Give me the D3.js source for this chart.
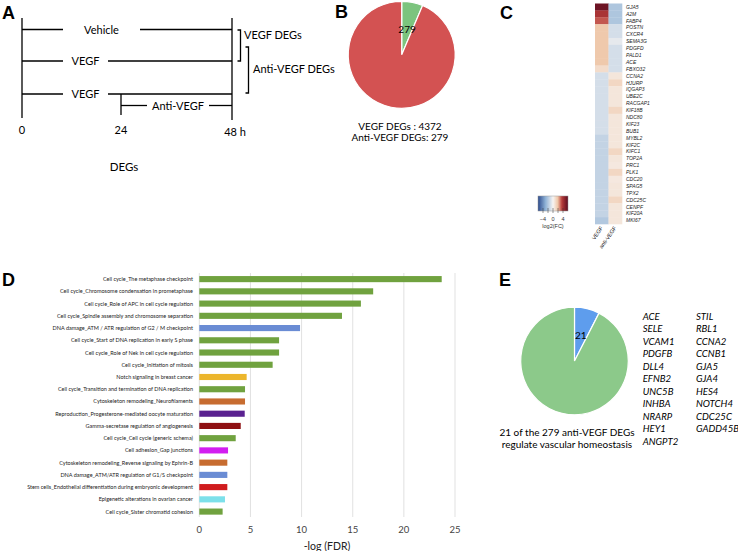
<!DOCTYPE html>
<html>
<head>
<meta charset="utf-8">
<script src="https://d3js.org/d3.v7.min.js"></script>
<style>
  body { margin: 0; background: #fff; }
  svg { display: block; }
</style>
</head>
<body>
<svg id="fig" width="738" height="551"></svg>
<script>
// ---------- data ----------
const timeTicks = [0, 24, 48];
const timeTickLabels = ["0", "24", "48 h"];
const armLabels = ["Vehicle", "VEGF", "VEGF", "Anti-VEGF"];
const armStart = [0, 0, 0, 24];
const armEnd = [48, 48, 48, 48];

const vegfDegs = 4372;
const antiVegfDegs = 279;

const heatColumns = ["VEGF", "anti-VEGF"];
const heatGenes = ["GJA5", "A2M", "FABP4", "POSTN", "CXCR4", "SEMA3G", "PDGFD", "PALD1", "ACE", "FBXO32",
  "CCNA2", "HJURP", "IQGAP3", "UBE2C", "RACGAP1", "KIF18B", "NDC80", "KIF23", "BUB1", "MYBL2",
  "KIF2C", "KIFC1", "TOP2A", "PRC1", "PLK1", "CDC20", "SPAG5", "TPX2", "CDC25C", "CENPF", "KIF20A", "MKI67"];
const heatVegf = [5.5, 3.9, 3.2, 1.8, 1.8, 1.8, 1.8, 1.8, 1.8, 1.0,
  -1.0, -1.0, -1.0, -1.0, -1.0, -1.0, -1.0, -1.0, -1.0, -1.5,
  -1.5, -1.5, -1.5, -1.5, -1.5, -1.5, -1.5, -1.5, -1.5, -1.5, -1.5, -2.0];
const heatAnti = [-2.1, -2.1, -2.1, -1.0, -1.0, -0.5, -1.0, -1.0, -1.0, -1.0,
  0.6, 1.2, 0.6, 0.6, 0.6, 1.2, 0.6, 0.6, 0.6, 0.6,
  0.6, 1.2, 0.6, 0.5, 1.2, 0.5, 0.6, 0.6, 1.2, 0.6, 0.6, 0.6];
const colorbarTicks = [-4, -2, 0, 2, 4];

const pathways = [
  "Cell cycle_The metaphase checkpoint",
  "Cell cycle_Chromosome condensation in prometaphase",
  "Cell cycle_Role of APC in cell cycle regulation",
  "Cell cycle_Spindle assembly and chromosome separation",
  "DNA damage_ATM / ATR regulation of G2 / M checkpoint",
  "Cell cycle_Start of DNA replication in early S phase",
  "Cell cycle_Role of Nek in cell cycle regulation",
  "Cell cycle_Initiation of mitosis",
  "Notch signaling in breast cancer",
  "Cell cycle_Transition and termination of DNA replication",
  "Cytoskeleton remodeling_Neurofilaments",
  "Reproduction_Progesterone-mediated oocyte maturation",
  "Gamma-secretase regulation of angiogenesis",
  "Cell cycle_Cell cycle (generic schema)",
  "Cell adhesion_Gap junctions",
  "Cytoskeleton remodeling_Reverse signaling by Ephrin-B",
  "DNA damage_ATM/ATR regulation of G1/S checkpoint",
  "Stem cells_Endothelial differentiation during embryonic development",
  "Epigenetic alterations in ovarian cancer",
  "Cell cycle_Sister chromatid cohesion"
];
const pathwayScores = [23.7, 17.0, 15.8, 13.95, 9.85, 7.8, 7.8, 7.17, 4.63, 4.47,
  4.47, 4.44, 4.05, 3.56, 2.81, 2.74, 2.74, 2.74, 2.51, 2.28];
const pathwayColors = ["#70a23f", "#70a23f", "#70a23f", "#70a23f", "#6a8cd4", "#70a23f", "#70a23f", "#70a23f",
  "#ecb62c", "#70a23f", "#c76c30", "#5a2190", "#8e1012", "#70a23f", "#d21ef0", "#c76c30",
  "#6a8cd4", "#d01c1e", "#7ce0ea", "#70a23f"];
const fdrTicks = [0, 5, 10, 15, 20, 25];

const vascularCount = 21;
const antiTotal = 279;
const vascGenesLeft = ["ACE", "SELE", "VCAM1", "PDGFB", "DLL4", "EFNB2", "UNC5B", "INHBA", "NRARP", "HEY1", "ANGPT2"];
const vascGenesRight = ["STIL", "RBL1", "CCNA2", "CCNB1", "GJA5", "GJA4", "HES4", "NOTCH4", "CDC25C", "GADD45B"];

// ---------- drawing ----------
const svg = d3.select("#fig");
svg.append("rect").attr("width", 738).attr("height", 551).attr("fill", "#fff");
const calib = "Lato, 'Open Sans', sans-serif";
const arial = "'Liberation Sans', Arial, sans-serif";

function panelLabel(t, x, y) {
  svg.append("text").attr("x", x).attr("y", y).text(t)
    .style("font", `bold 18px ${arial}`);
}
panelLabel("A", 2, 19);
panelLabel("B", 335, 18);
panelLabel("C", 500, 19);
panelLabel("D", 2, 286);
panelLabel("E", 499, 286);

// ---- A: design timeline ----
const gA = svg.append("g");
const tx = d3.scaleLinear().domain(timeTicks).range([22, 121, 232]);
const armY = [29.5, 61, 94, 105.5];
const armGap = [[63, 140], [63, 108], [63, 108], [147, 209]];
const lineA = sel => sel.attr("stroke", "#000").attr("stroke-width", 1.3);

gA.append("line").attr("x1", tx(0)).attr("x2", tx(0)).attr("y1", 18).attr("y2", 118).call(lineA);
gA.append("line").attr("x1", tx(48)).attr("x2", tx(48)).attr("y1", 18).attr("y2", 120).call(lineA);
gA.append("line").attr("x1", tx(24)).attr("x2", tx(24)).attr("y1", armY[2]).attr("y2", 115).call(lineA);

armLabels.forEach((lab, i) => {
  const x0 = tx(armStart[i]), x1 = tx(armEnd[i]);
  const [g0, g1] = armGap[i];
  gA.append("line").attr("x1", x0).attr("x2", g0).attr("y1", armY[i]).attr("y2", armY[i]).call(lineA);
  gA.append("line").attr("x1", g1).attr("x2", x1).attr("y1", armY[i]).attr("y2", armY[i]).call(lineA);
  gA.append("text").attr("x", (g0 + g1) / 2).attr("y", armY[i] + 4)
    .attr("text-anchor", "middle").text(lab).style("font", `11px ${calib}`);
});

timeTicks.forEach((t, i) => {
  gA.append("text").attr("x", tx(t) + (i === 2 ? 3 : 0)).attr("y", i === 2 ? 136 : 134)
    .attr("text-anchor", "middle").text(timeTickLabels[i]).style("font", `11px ${calib}`);
});
gA.append("text").attr("x", 124).attr("y", 171).attr("text-anchor", "middle")
  .text("DEGs").style("font", `11.5px ${calib}`);

// brackets
function bracket(x, y0, y1) {
  gA.append("path").attr("d", `M${x - 3},${y0}H${x}V${y1}H${x - 3}`)
    .attr("fill", "none").call(lineA);
}
bracket(240.5, 30, 61);
bracket(248.5, 47, 93);
gA.append("text").attr("x", 244).attr("y", 38.5).text("VEGF DEGs").style("font", `11px ${calib}`);
gA.append("text").attr("x", 253).attr("y", 73).text("Anti-VEGF DEGs").style("font", `11px ${calib}`);

// ---- B: pie ----
const gB = svg.append("g").attr("transform", "translate(401.7,54.8)");
const pieB = d3.pie().sort(null).value(d => d)([antiVegfDegs, vegfDegs - antiVegfDegs]);
const arcB = d3.arc().innerRadius(0).outerRadius(53.5);
gB.selectAll("path").data(pieB).join("path")
  .attr("d", arcB)
  .attr("fill", (d, i) => i === 0 ? "#7cc47e" : "#d35252")
  .attr("stroke", "#fff").attr("stroke-width", 1.2);
const cB = arcB.centroid(pieB[0]);
gB.append("text").attr("x", cB[0]).attr("y", cB[1] + 4).attr("text-anchor", "middle")
  .text(antiVegfDegs).style("font", `10px ${calib}`);
svg.append("text").attr("x", 400).attr("y", 130).attr("text-anchor", "middle")
  .text(`VEGF DEGs : ${vegfDegs}`).style("font", `10px ${calib}`);
svg.append("text").attr("x", 400).attr("y", 141).attr("text-anchor", "middle")
  .text(`Anti-VEGF DEGs: ${antiVegfDegs}`).style("font", `10px ${calib}`);

// ---- C: heatmap ----
const gC = svg.append("g");
const hx = d3.scaleBand().domain(heatColumns).range([595, 622]);
const hy = d3.scaleBand().domain(heatGenes).range([3.5, 224]);
const heatColor = d3.scaleLinear()
  .domain([-6, -3, 0, 2, 3.5, 6])
  .range(["#2c4a8c", "#8fb2d6", "#f7f4f2", "#eec4a4", "#b83c3a", "#5a0a1e"]);

const cells = [];
heatGenes.forEach((g, i) => {
  cells.push({ gene: g, col: heatColumns[0], v: heatVegf[i] });
  cells.push({ gene: g, col: heatColumns[1], v: heatAnti[i] });
});
gC.selectAll("rect.cell").data(cells).join("rect").attr("class", "cell")
  .attr("x", d => hx(d.col)).attr("y", d => hy(d.gene))
  .attr("width", hx.bandwidth() + 0.3).attr("height", hy.bandwidth() + 0.3)
  .attr("fill", d => heatColor(d.v));
gC.selectAll("text.gene").data(heatGenes).join("text").attr("class", "gene")
  .attr("x", 626).attr("y", d => hy(d) + hy.bandwidth() / 2 + 1.8)
  .text(d => d).style("font", `italic 5px ${arial}`).attr("fill", "#222");
gC.selectAll("text.col").data(heatColumns).join("text").attr("class", "col")
  .attr("transform", d => `translate(${hx(d) + hx.bandwidth() / 2 + 1.5},228) rotate(-55)`)
  .attr("text-anchor", "end").text(d => d)
  .style("font", `5.5px ${arial}`).attr("fill", "#222");

// colorbar
const cbx = d3.scaleLinear().domain([-6, 6]).range([538, 568]);
const defs = svg.append("defs");
const grad = defs.append("linearGradient").attr("id", "cbgrad");
d3.range(0, 1.0001, 0.05).forEach(t => {
  grad.append("stop").attr("offset", t).attr("stop-color", heatColor(-6 + 12 * t));
});
gC.append("rect").attr("x", cbx(-6)).attr("y", 196).attr("width", cbx(6) - cbx(-6)).attr("height", 15)
  .attr("fill", "url(#cbgrad)").attr("stroke", "#999").attr("stroke-width", 0.5);
gC.selectAll("line.cbt").data(colorbarTicks).join("line").attr("class", "cbt")
  .attr("x1", d => cbx(d)).attr("x2", d => cbx(d)).attr("y1", 208).attr("y2", 213)
  .attr("stroke", "#333").attr("stroke-width", 0.5);
gC.selectAll("text.cbl").data(colorbarTicks.filter(d => d % 4 === 0)).join("text").attr("class", "cbl")
  .attr("x", d => cbx(d)).attr("y", 220.5).attr("text-anchor", "middle")
  .text(d => d < 0 ? "\u2212" + Math.abs(d) : d).style("font", `5.5px ${arial}`).attr("fill", "#333");
gC.append("text").attr("x", 553).attr("y", 228).attr("text-anchor", "middle")
  .text("log2(FC)").style("font", `5.5px ${arial}`).attr("fill", "#333");

// ---- D: pathway bars ----
const gD = svg.append("g");
const bx = d3.scaleLinear().domain([0, 25]).range([199.3, 455]);
const by = d3.scaleBand().domain(pathways).range([273, 517.7]).paddingInner(0.5).paddingOuter(0.25);
gD.selectAll("line.grid").data(fdrTicks).join("line").attr("class", "grid")
  .attr("x1", d => bx(d)).attr("x2", d => bx(d)).attr("y1", 273).attr("y2", 517)
  .attr("stroke", "#d9d9d9").attr("stroke-width", 0.8);
gD.selectAll("rect.bar").data(pathways).join("rect").attr("class", "bar")
  .attr("x", bx(0)).attr("y", (d) => by(d))
  .attr("width", (d, i) => bx(pathwayScores[i]) - bx(0)).attr("height", by.bandwidth())
  .attr("fill", (d, i) => pathwayColors[i]);
gD.selectAll("text.pw").data(pathways).join("text").attr("class", "pw")
  .attr("x", 193).attr("y", d => by(d) + by.bandwidth() / 2 + 2)
  .attr("text-anchor", "end").text(d => d)
  .style("font", `5.5px ${calib}`).attr("fill", "#222");
gD.selectAll("text.tk").data(fdrTicks).join("text").attr("class", "tk")
  .attr("x", d => bx(d)).attr("y", 533).attr("text-anchor", "middle")
  .text(d => d).style("font", `9.5px ${calib}`).attr("fill", "#444");
gD.append("text").attr("x", 327).attr("y", 549.5).attr("text-anchor", "middle")
  .text("-log (FDR)").style("font", `10.5px ${calib}`).attr("fill", "#222");

// ---- E: pie + gene lists ----
const gE = svg.append("g").attr("transform", "translate(574.5,361)");
const pieE = d3.pie().sort(null).value(d => d)([vascularCount, antiTotal - vascularCount]);
const arcE = d3.arc().innerRadius(0).outerRadius(53.8);
gE.selectAll("path").data(pieE).join("path")
  .attr("d", arcE)
  .attr("fill", (d, i) => i === 0 ? "#5e9ded" : "#8cc98a")
  .attr("stroke", "#fff").attr("stroke-width", 1.2);
const cE = arcE.centroid(pieE[0]);
gE.append("text").attr("x", cE[0]).attr("y", cE[1] + 4).attr("text-anchor", "middle")
  .text(vascularCount).style("font", `10px ${calib}`);
svg.append("text").attr("x", 567).attr("y", 436).attr("text-anchor", "middle")
  .text(`${vascularCount} of the ${antiTotal} anti-VEGF DEGs`).style("font", `10px ${calib}`);
svg.append("text").attr("x", 567).attr("y", 448).attr("text-anchor", "middle")
  .text("regulate vascular homeostasis").style("font", `10px ${calib}`);

const gy = d3.scaleLinear().domain([0, 10]).range([319.5, 444.5]);
[[vascGenesLeft, 642.7], [vascGenesRight, 696]].forEach(([list, x]) => {
  svg.selectAll(null).data(list).join("text")
    .attr("x", x).attr("y", (d, i) => gy(i)).text(d => d)
    .style("font", `italic 9.6px ${calib}`);
});
</script>
</body>
</html>
